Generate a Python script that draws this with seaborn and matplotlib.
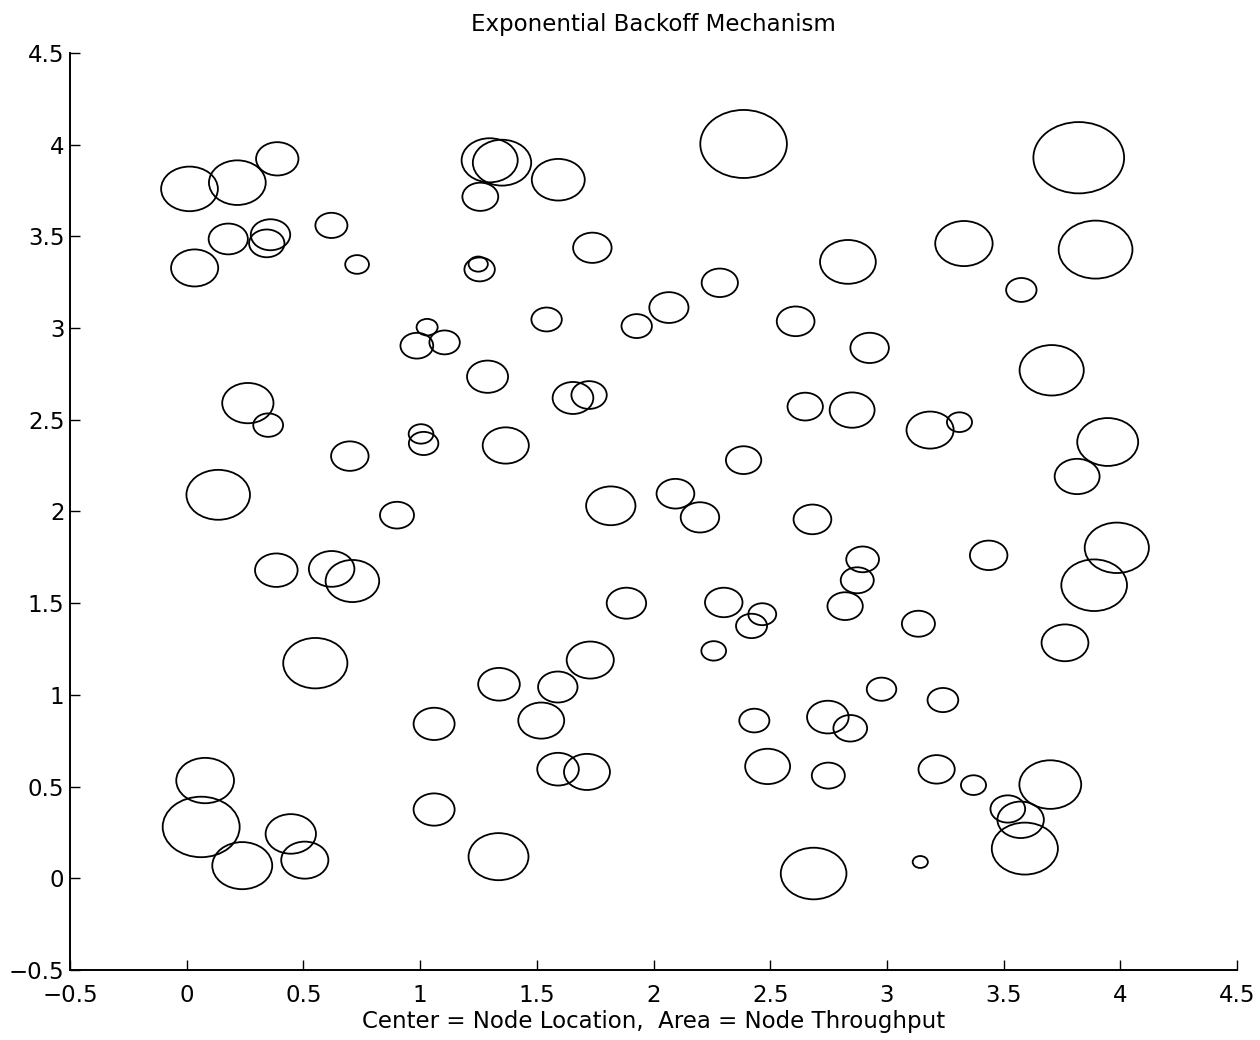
import numpy as np
import pandas as pd
import matplotlib
matplotlib.use("Agg")
import matplotlib.pyplot as plt
from matplotlib.path import Path
from matplotlib.markers import MarkerStyle
import seaborn as sns

# ---------------- data ----------------
node_x = [0.012, 0.217, 0.388, 0.178, 0.359, 0.343, 0.034, 0.620, 0.730, 1.030,
          0.986, 1.105, 1.298, 1.351, 1.258, 1.592, 2.386, 1.738, 1.255, 1.249,
          2.284, 2.833, 1.542, 1.928, 2.066, 2.609, 2.926, 3.822, 3.330, 3.894,
          3.576, 0.262, 0.349, 0.699, 1.004, 1.015, 0.135, 0.901, 0.384, 0.621,
          0.710, 0.551, 1.289, 1.655, 1.724, 1.367, 1.817, 2.094, 2.199, 2.386,
          2.650, 2.851, 2.681, 1.884, 2.301, 2.466, 2.420, 2.258, 1.729, 1.338,
          1.590, 2.896, 2.873, 2.821, 3.706, 3.185, 3.311, 3.946, 3.815, 3.436,
          3.985, 3.888, 3.135, 3.763, 1.060, 1.060, 0.079, 0.062, 0.238, 0.446,
          0.506, 1.336, 1.519, 1.591, 1.715, 2.432, 2.489, 2.747, 2.843, 2.749,
          2.686, 2.977, 3.240, 3.213, 3.371, 3.700, 3.518, 3.573, 3.591, 3.143]
node_y = [3.759, 3.793, 3.923, 3.486, 3.509, 3.462, 3.328, 3.560, 3.347, 3.005,
          2.904, 2.922, 3.915, 3.902, 3.716, 3.809, 4.004, 3.438, 3.320, 3.349,
          3.247, 3.361, 3.047, 3.011, 3.112, 3.037, 2.892, 3.929, 3.461, 3.428,
          3.208, 2.591, 2.471, 2.302, 2.423, 2.371, 2.091, 1.980, 1.680, 1.687,
          1.621, 1.173, 2.735, 2.619, 2.635, 2.360, 2.031, 2.097, 1.968, 2.280,
          2.572, 2.553, 1.957, 1.500, 1.504, 1.440, 1.376, 1.240, 1.190, 1.058,
          1.043, 1.739, 1.625, 1.484, 2.770, 2.444, 2.487, 2.379, 2.191, 1.761,
          1.802, 1.598, 1.388, 1.284, 0.842, 0.375, 0.533, 0.280, 0.069, 0.242,
          0.099, 0.118, 0.860, 0.595, 0.580, 0.860, 0.610, 0.879, 0.818, 0.560,
          0.026, 1.031, 0.972, 0.594, 0.508, 0.511, 0.378, 0.319, 0.162, 0.089]
throughput = [34.8, 34.8, 19.4, 16.6, 16.8, 13.5, 24.0, 11.1, 6.1, 4.8,
              11.6, 10.0, 34.0, 36.8, 13.9, 30.3, 81.0, 16.0, 10.0, 4.0,
              14.2, 33.6, 10.0, 10.0, 16.6, 15.4, 16.0, 88.9, 35.6, 58.8,
              10.0, 28.4, 9.6, 15.2, 6.6, 9.4, 43.6, 12.5, 19.6, 22.4,
              31.0, 44.5, 18.2, 17.9, 13.5, 23.0, 26.3, 15.4, 16.0, 13.5,
              13.5, 21.8, 15.4, 16.8, 15.2, 8.4, 10.4, 6.6, 24.0, 18.7,
              16.8, 11.6, 11.8, 13.5, 44.5, 24.0, 6.8, 40.1, 21.8, 15.2,
              44.5, 46.6, 11.8, 23.7, 18.2, 18.2, 36.0, 64.0, 38.8, 27.4,
              24.0, 38.8, 22.8, 18.7, 22.8, 9.8, 21.8, 18.7, 12.3, 11.8,
              46.6, 9.4, 10.2, 14.2, 6.8, 41.3, 13.0, 23.3, 47.2, 2.5]

tick_values = [-0.5, 0, 0.5, 1, 1.5, 2, 2.5, 3, 3.5, 4, 4.5]
tick_labels = ["\u22120.5", "0", "0.5", "1", "1.5", "2", "2.5", "3", "3.5", "4", "4.5"]

title_text = "Exponential Backoff Mechanism"
xlabel_text = "Center = Node Location,  Area = Node Throughput"

df = pd.DataFrame({"x": node_x, "y": node_y, "throughput": throughput})

# ---------------- style ----------------
sns.set_style("ticks")
plt.rcParams["font.family"] = ["DejaVu Sans"]
plt.rcParams["axes.unicode_minus"] = True
plt.rcParams["text.color"] = "black"
plt.rcParams["axes.labelcolor"] = "black"

fig = plt.figure(figsize=(12.6, 10.4), dpi=100)
W, H = 1260, 1040
left, right, top, bottom = 70, 1237, 53, 970
ax = fig.add_axes([left / W, 1 - bottom / H, (right - left) / W, (bottom - top) / H])
ax.set_xlim(-0.5, 4.5)
ax.set_ylim(-0.5, 4.5)

# markers are stretched like the reference (circles appear wider than tall)
px_x = (right - left) / 5.0
px_y = (bottom - top) / 5.0
aspect = px_y / px_x
circ = Path.unit_circle()
ell = Path(circ.vertices * np.array([1.0, aspect]), circ.codes)
marker = MarkerStyle(ell)

k = 48.0  # pt^2 per throughput unit (area proportional to throughput)
tmin, tmax = min(throughput), max(throughput)
sns.scatterplot(data=df, x="x", y="y", size="throughput",
                sizes=(k * tmin, k * tmax), size_norm=(tmin, tmax),
                marker=marker, facecolor="none", edgecolor="black",
                linewidth=1.3, legend=False, ax=ax, zorder=3)

ax.set_xticks(tick_values)
ax.set_xticklabels(tick_labels)
ax.set_yticks(tick_values)
ax.set_yticklabels(tick_labels)
ax.tick_params(direction="in", length=7.5, width=1.0, labelsize=16.5,
               colors="black")
ax.tick_params(axis="x", pad=10)
ax.tick_params(axis="y", pad=4)
for s in ["left", "bottom"]:
    ax.spines[s].set_linewidth(1.4)
    ax.spines[s].set_color("black")
sns.despine(ax=ax)
ax.set_xlabel(xlabel_text, fontsize=16.5, labelpad=2, color="black")
ax.set_ylabel("")
ax.set_title(title_text, fontsize=16.5, pad=16, color="black")

fig.savefig("out.png", dpi=100, facecolor="white")
